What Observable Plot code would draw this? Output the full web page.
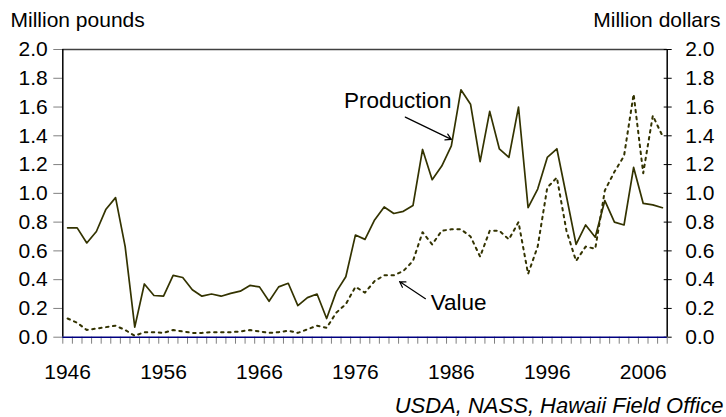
<!DOCTYPE html>
<html>
<head>
<meta charset="utf-8">
<script src="https://cdn.jsdelivr.net/npm/d3@7"></script>
<script src="https://cdn.jsdelivr.net/npm/@observablehq/plot@0.6"></script>
<style>
  html, body { margin: 0; padding: 0; background: #fff; }
  svg { display: block; }
</style>
</head>
<body>
<div id="chart"></div>
<script>
// ---- data ----
const years = [1946,1947,1948,1949,1950,1951,1952,1953,1954,1955,
  1956,1957,1958,1959,1960,1961,1962,1963,1964,1965,
  1966,1967,1968,1969,1970,1971,1972,1973,1974,1975,
  1976,1977,1978,1979,1980,1981,1982,1983,1984,1985,
  1986,1987,1988,1989,1990,1991,1992,1993,1994,1995,
  1996,1997,1998,1999,2000,2001,2002,2003,2004,2005,
  2006,2007,2008];
// Production, million pounds
const production = [0.76,0.76,0.655,0.735,0.89,0.97,0.63,0.07,0.37,0.29,
  0.285,0.43,0.415,0.33,0.285,0.30,0.285,0.305,0.32,0.36,
  0.35,0.25,0.35,0.375,0.22,0.275,0.30,0.13,0.315,0.42,
  0.71,0.68,0.815,0.905,0.86,0.875,0.915,1.305,1.095,1.19,
  1.33,1.72,1.62,1.22,1.57,1.31,1.25,1.60,0.90,1.03,
  1.25,1.31,0.98,0.645,0.78,0.695,0.95,0.80,0.78,1.18,
  0.93,0.92,0.90];
// Value, million dollars
const value = [0.13,0.10,0.05,0.06,0.07,0.08,0.05,0.01,0.035,0.035,
  0.03,0.05,0.04,0.03,0.03,0.035,0.035,0.035,0.04,0.05,
  0.04,0.03,0.035,0.045,0.03,0.055,0.08,0.065,0.17,0.23,
  0.35,0.31,0.39,0.43,0.43,0.46,0.53,0.73,0.645,0.74,
  0.75,0.75,0.70,0.56,0.74,0.74,0.68,0.80,0.44,0.63,
  1.04,1.11,0.74,0.53,0.63,0.615,1.02,1.15,1.26,1.69,
  1.14,1.54,1.40];
const yTicks = [0,0.2,0.4,0.6,0.8,1.0,1.2,1.4,1.6,1.8,2.0];
const xLabelYears = [1946,1956,1966,1976,1986,1996,2006];
const leftTitle = "Million pounds";
const rightTitle = "Million dollars";
const caption = "USDA, NASS, Hawaii Field Office";
// annotations
const annotText = ["Production","Value"];
const annotX = [1974.8, 1983.85];
const annotY = [1.646, 0.24];
const arrowX1 = [1981.2, 1983.3];
const arrowY1 = [1.53, 0.268];
const arrowX2 = [1986.0, 1980.6];
const arrowY2 = [1.375, 0.387];

// ---- derived tables ----
const prodData = years.map((y, i) => ({year: y, v: production[i]}));
const valData = years.map((y, i) => ({year: y, v: value[i]}));
const boundaries = [years[0] - 0.5, ...years.map(y => y + 0.5)];
const annots = annotText.map((t, i) => ({t, x: annotX[i], y: annotY[i]}));
const arrows = arrowX1.map((x, i) => ({x1: x, y1: arrowY1[i], x2: arrowX2[i], y2: arrowY2[i]}));
const fmt = d3.format(".1f");
const FS = 21;
const ink = "#333300";

const chart = Plot.plot({
  width: 726,
  height: 417,
  marginTop: 49,
  marginBottom: 80.3,
  marginLeft: 62.3,
  marginRight: 59.3,
  style: {fontFamily: "'Liberation Sans', Arial, Helvetica, sans-serif", fontSize: FS + "px", background: "#fff", color: "#000"},
  x: {type: "linear", domain: [boundaries[0], boundaries[boundaries.length - 1]]},
  y: {domain: [0, 2]},
  marks: [
    Plot.ruleY([2], {stroke: "#404040", strokeWidth: 1.5}),
    Plot.axisY(yTicks, {anchor: "left", tickSize: 9, fill: "none", stroke: "#808080", label: null}),
    Plot.axisY(yTicks, {anchor: "left", tickSize: 0, tickPadding: 15, tickFormat: fmt, fontSize: FS, label: null}),
    Plot.axisY(yTicks, {anchor: "right", tickSize: 8, dx: -4, fill: "none", stroke: "#000", label: null}),
    Plot.axisY(yTicks, {anchor: "right", tickSize: 0, tickPadding: 18, tickFormat: fmt, fontSize: FS, label: null}),
    Plot.axisX(boundaries, {anchor: "bottom", tickSize: 7, fill: "none", stroke: "#808080", label: null}),
    Plot.axisX(xLabelYears, {anchor: "bottom", tickSize: 0, tickPadding: 27, tickFormat: d => String(d), fontSize: FS, label: null}),
    Plot.ruleX([boundaries[0]], {stroke: "#000", strokeWidth: 1.5}),
    Plot.ruleX([boundaries[boundaries.length - 1]], {stroke: "#000", strokeWidth: 1.5}),
    Plot.ruleY([0], {stroke: "#000080", strokeWidth: 1.5}),
    // series
    Plot.line(valData, {x: "year", y: "v", stroke: ink, strokeWidth: 2, strokeDasharray: "2.5,4.5"}),
    Plot.line(prodData, {x: "year", y: "v", stroke: ink, strokeWidth: 1.7}),
    // annotations
    Plot.arrow(arrows, {x1: "x1", y1: "y1", x2: "x2", y2: "y2", stroke: "#000", strokeWidth: 1.2, headLength: 8}),
    Plot.text(annots, {x: "x", y: "y", text: "t", textAnchor: "start", lineAnchor: "middle", fontSize: 22.5, fill: "#000"}),
    // titles
    Plot.text([leftTitle], {frameAnchor: "top-left", textAnchor: "start", lineAnchor: "middle", dx: -52.3, dy: -29.5, fontSize: 21, fill: "#000"}),
    Plot.text([rightTitle], {frameAnchor: "top-right", textAnchor: "end", lineAnchor: "middle", dx: 53.3, dy: -29.5, fontSize: 21, fill: "#000"}),
    Plot.text([caption], {frameAnchor: "bottom-right", textAnchor: "end", lineAnchor: "middle", dx: 56.3, dy: 68.6, fontSize: 22, fontStyle: "italic", fill: "#000"})
  ]
});
document.getElementById("chart").appendChild(chart);
</script>
</body>
</html>
